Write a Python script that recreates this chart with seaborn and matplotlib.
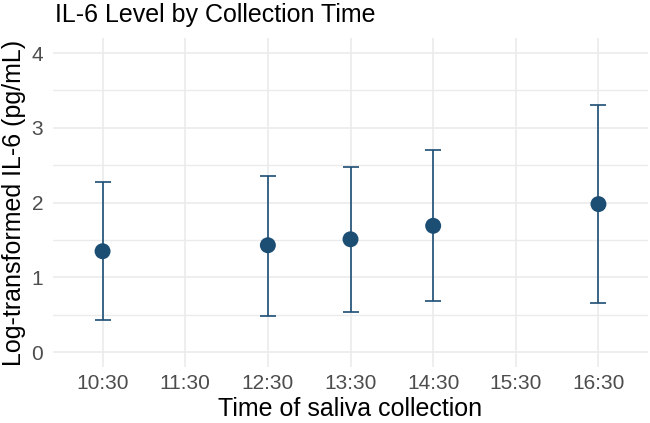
import numpy as np
import pandas as pd
import matplotlib
matplotlib.use("Agg")
import matplotlib.pyplot as plt
import seaborn as sns

times = ["10:30", "12:30", "13:30", "14:30", "16:30"]
means = [1.35, 1.43, 1.51, 1.69, 1.98]
lower = [0.43, 0.49, 0.54, 0.68, 0.66]
upper = [2.28, 2.36, 2.47, 2.71, 3.30]
tick_labels = ["10:30", "11:30", "12:30", "13:30", "14:30", "15:30", "16:30"]

def to_hours(t):
    h, m = t.split(":")
    return int(h) + int(m) / 60.0

df = pd.DataFrame({"time": [to_hours(t) for t in times], "mean": means,
                   "lower": lower, "upper": upper})

sns.set_theme(style="white")
plt.rcParams["font.family"] = ["Liberation Sans", "DejaVu Sans"]

color = "#1c4e74"
fig = plt.figure(figsize=(6.5, 4.23), dpi=100)
ax = fig.add_axes([0.0815, 0.132, 0.9155, 0.778])

ax.errorbar(df["time"], df["mean"],
            yerr=[df["mean"] - df["lower"], df["upper"] - df["mean"]],
            fmt="none", ecolor=color, elinewidth=1.2, capsize=6, capthick=1.2, zorder=3)
sns.scatterplot(data=df, x="time", y="mean", ax=ax, color=color, s=132,
                edgecolor="none", zorder=4)

ticks = [to_hours(t) for t in tick_labels]
ax.set_xticks(ticks)
ax.set_xticklabels(tick_labels)
ax.set_xlim(9.9, 17.1)
ax.set_ylim(-0.2, 4.2)
ax.set_yticks([0, 1, 2, 3, 4])
ax.set_yticks([0.5, 1.5, 2.5, 3.5], minor=True)

ax.grid(True, which="major", color="#ebebeb", linewidth=1.2)
ax.grid(True, which="minor", axis="y", color="#ebebeb", linewidth=1.0)
ax.set_axisbelow(True)
for s in ax.spines.values():
    s.set_visible(False)
ax.tick_params(axis="both", which="both", length=0, labelsize=15,
               labelcolor="#4d4d4d")
ax.tick_params(axis="x", pad=5)
ax.tick_params(axis="y", pad=7)

ax.set_xlabel("Time of saliva collection", fontsize=18, color="black", labelpad=3)
ax.set_ylabel("Log-transformed IL-6 (pg/mL)", fontsize=18, color="black", labelpad=4)
fig.text(55 / 650, 1 - 22 / 423, "IL-6 Level by Collection Time", fontsize=18,
         ha="left", va="baseline", color="black")

fig.savefig("out.png", dpi=100)
